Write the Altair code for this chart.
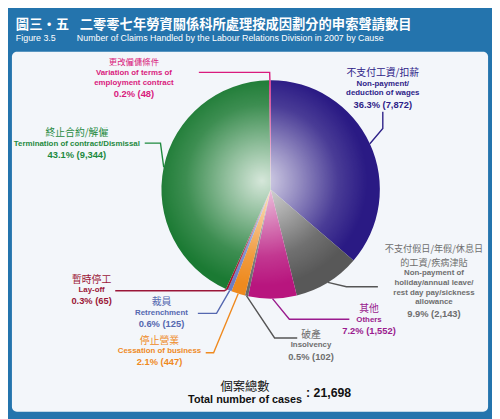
import math
import altair as alt
import pandas as pd

# ---------------- data ----------------
cause_zh = [["不支付工資/扣薪"],
            ["不支付假日/年假/休息日", "的工資/疾病津貼"],
            ["其他"], ["破產"], ["停止營業"], ["裁員"], ["暫時停工"],
            ["終止合約/解僱"], ["更改僱傭條件"]]
cause_en = [["Non-payment/", "deduction of wages"],
            ["Non-payment of", "holiday/annual leave/", "rest day pay/sickness", "allowance"],
            ["Others"], ["Insolvency"], ["Cessation of business"], ["Retrenchment"],
            ["Lay-off"], ["Termination of contract/Dismissal"],
            ["Variation of terms of", "employment contract"]]
cases = [7872, 2143, 1552, 102, 447, 125, 65, 9344, 48]
share_pct = [36.3, 9.9, 7.2, 0.5, 2.1, 0.6, 0.3, 43.1, 0.2]
total_cases = 21698

title_zh_a = "圖三・五"
title_zh_b = "二零零七年勞資關係科所處理按成因劃分的申索聲請數目"
fig_no = "Figure 3.5"
title_en = "Number of Claims Handled by the Labour Relations Division in 2007 by Cause"
total_zh = "個案總數"
total_en = "Total number of cases"

# ---------------- styles ----------------
slice_fill = ["#2a1a84", "#585858", "#b8157e", "#6a6a6a", "#ee8a1e",
              "#6b7dc4", "#a3122e", "#1b7a33", "#e0177c"]
label_color = ["#2e2288", "#6e6e6e", "#9a1b8e", "#6e6e6e", "#ef8a1f",
               "#5568b0", "#9b1638", "#1e8a3e", "#d91b7d"]
line_color = ["#2e2288", "#555555", "#9a1b8e", "#555555", "#ef8a1f",
              "#5568b0", "#9b1638", "#1e8a3e", "#d91b7d"]
zh_size = [10, 9.3, 10, 10, 10, 10, 10, 10, 8.5]

# ---------------- layout (reference pixel coords) ----------------
W, H = 492, 411
OX, OY = 8, 45           # reference coords of the plot-area origin
def vx(x): return x - OX
def vy(y): return y - OY

CX, CY, R = vx(271), vy(185), 111
label_cx = [385, 437, 371, 312, 158, 160, 89, 74, 132]
label_top = [67, 246, 307, 333, 339, 300, 277, 128, 56]
zh_step = 13.5
leader_pts = [[(385, 123), (385, 106)],
              [(348, 284), (380, 284)],
              [(290, 317), (351, 317)],
              [(275, 336), (298, 336)],
              [(213, 351), (205, 351)],
              [(216, 311), (197, 311)],
              [(224, 288), (113, 288)],
              [(159, 138), (143, 138)],
              [(270, 66), (198, 66)]]

# ---------------- pie ----------------
pie_df = pd.DataFrame({"idx": list(range(len(cases))), "cases": cases, "fill": slice_fill})

pie = alt.Chart(pie_df).mark_arc(outerRadius=R).encode(
    theta=alt.Theta("cases:Q", stack=True),
    order=alt.Order("idx:Q", sort="ascending"),
    color=alt.Color("fill:N", scale=None),
    x=alt.value(CX), y=alt.value(CY),
)

glow = alt.Chart(pd.DataFrame({"k": [0]})).mark_arc(
    theta=0, theta2=2 * math.pi, outerRadius=R,
    color=alt.RadialGradient(
        gradient="radial",
        stops=[alt.GradientStop(color="rgba(255,255,255,0.82)", offset=0),
               alt.GradientStop(color="rgba(255,255,255,0.5)", offset=0.3),
               alt.GradientStop(color="rgba(255,255,255,0.15)", offset=0.62),
               alt.GradientStop(color="rgba(255,255,255,0)", offset=0.86),
               alt.GradientStop(color="rgba(255,255,255,0)", offset=1)],
        x1=0.46, y1=0.46, r1=0, x2=0.46, y2=0.46, r2=0.56),
).encode(x=alt.value(CX), y=alt.value(CY))

# ---------------- leader lines ----------------
tot = sum(cases)
rows = []
cum = 0
for i, v in enumerate(cases):
    mid = (cum + v / 2) / tot * 2 * math.pi
    cum += v
    sx, sy = CX + R * math.sin(mid), CY - R * math.cos(mid)
    pts = [(sx, sy)] + [(vx(a), vy(b)) for a, b in leader_pts[i]]
    for k, (a, b) in enumerate(pts):
        rows.append({"lid": i, "ord": k, "x": a, "y": b, "color": line_color[i]})
lead_df = pd.DataFrame(rows)
leaders = alt.Chart(lead_df).mark_line(strokeWidth=1.4).encode(
    x=alt.X("x:Q", scale=None, axis=None),
    y=alt.Y("y:Q", scale=None, axis=None),
    detail="lid:N", order="ord:Q",
    color=alt.Color("color:N", scale=None),
)

# ---------------- labels ----------------
zh_rows, en_rows, pct_rows = [], [], []
for i in range(len(cases)):
    x = vx(label_cx[i])
    y = label_top[i]
    for t in cause_zh[i]:
        zh_rows.append({"x": x, "y": vy(y), "text": t, "color": label_color[i], "size": zh_size[i]})
        y += zh_step
    y -= 1.5 + (zh_step - 12)
    for t in cause_en[i]:
        en_rows.append({"x": x, "y": vy(y), "text": t, "color": label_color[i], "size": 8})
        y += 10
    y += 1.5
    pct_rows.append({"x": x, "y": vy(y), "text": f"{share_pct[i]}% ({cases[i]:,})",
                     "color": label_color[i], "size": 9.5})

def text_layer(rows, font, weight, align="center"):
    return alt.Chart(pd.DataFrame(rows)).mark_text(
        font=font, fontWeight=weight, align=align, baseline="middle").encode(
        x=alt.X("x:Q", scale=None, axis=None),
        y=alt.Y("y:Q", scale=None, axis=None),
        text="text:N",
        color=alt.Color("color:N", scale=None),
        size=alt.Size("size:Q", scale=None),
    )

zh_text = text_layer(zh_rows, "Noto Sans CJK TC", "normal")
en_text = text_layer(en_rows, "Liberation Sans", "bold")
pct_text = text_layer(pct_rows, "Liberation Sans", "bold")

# header
head_zh = text_layer([
    {"x": vx(12), "y": vy(17.5), "text": title_zh_a, "color": "#ffffff", "size": 13.5},
    {"x": vx(77), "y": vy(17.5), "text": title_zh_b, "color": "#ffffff", "size": 13.5},
], "Noto Sans CJK TC", "bold", align="left")
head_en = text_layer([
    {"x": vx(12), "y": vy(31), "text": fig_no, "color": "#ffffff", "size": 9},
    {"x": vx(74), "y": vy(31), "text": title_en, "color": "#ffffff", "size": 9},
], "Liberation Sans", "normal", align="left")

# total
tot_zh = text_layer([{"x": vx(245), "y": vy(386), "text": total_zh, "color": "#111111", "size": 12.5}],
                    "Noto Sans CJK TC", "normal")
tot_en = text_layer([{"x": vx(245), "y": vy(399.5), "text": total_en, "color": "#111111", "size": 11}],
                    "Liberation Sans", "bold")
tot_val = text_layer([{"x": vx(307), "y": vy(392.5), "text": f": {total_cases:,}", "color": "#111111", "size": 12.5}],
                     "Liberation Sans", "bold", align="left")

chart = alt.layer(
    pie, glow, leaders, zh_text, en_text, pct_text, head_zh, head_en, tot_zh, tot_en, tot_val
).properties(
    width=W - 8, height=H - 45,
    autosize=alt.AutoSizeParams(type="none"),
    padding={"left": 4, "top": 41, "right": 4, "bottom": 4},
    background="#2474ad",
).configure_view(fill="#f3f6fa", stroke=None, cornerRadius=5)

chart.save("out.html", embed_options={"renderer": "svg", "actions": False})
